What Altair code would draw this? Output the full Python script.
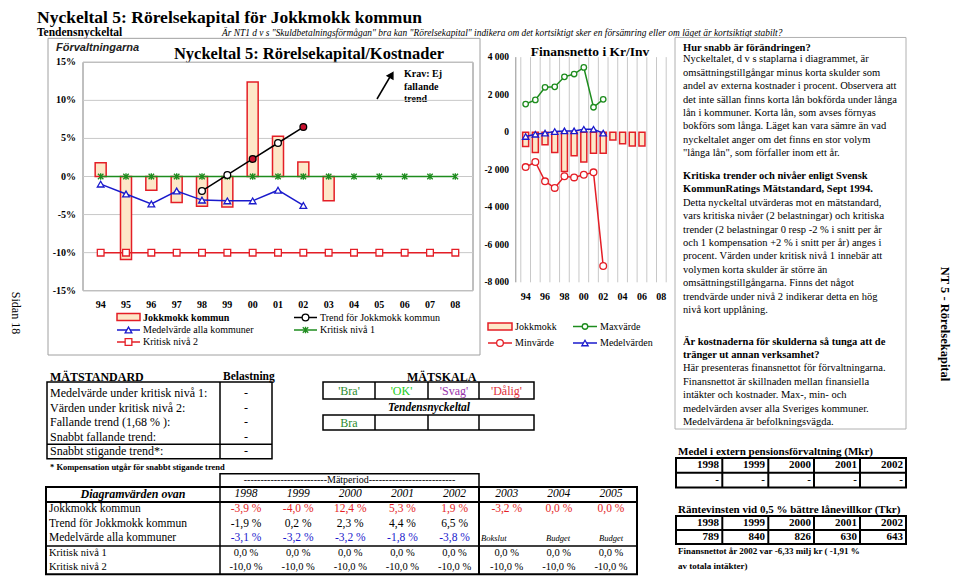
import altair as alt
import pandas as pd

SERIF = "Liberation Serif"
SANS = "Liberation Sans"

# ---------------- data: Nyckeltal 5 (% of costs) ----------------
years = ["94", "95", "96", "97", "98", "99", "00", "01", "02", "03", "04", "05", "06", "07", "08"]
jokkmokk = [1.8, -10.9, -1.8, -3.4, -3.9, -4.0, 12.4, 5.3, 1.9, -3.2]          # 94-03
medel = [-1.0, -2.3, -3.6, -1.9, -3.1, -3.2, -3.2, -1.8, -3.8]                 # 94-02
trend_years = ["98", "99", "00", "01", "02"]
trend = [-1.9, 0.2, 2.3, 4.4, 6.5]
trend_marked = ["00", "02"]
kritisk1 = [0.0, 0.0, 0.0, 0.0, 0.0, 0.0, 0.0, 0.0, 0.0, 0.0, 0.0, 0.0, 0.0, 0.0, 0.0]
kritisk2 = [-10.0, -10.0, -10.0, -10.0, -10.0, -10.0, -10.0, -10.0, -10.0, -10.0, -10.0, -10.0, -10.0, -10.0, -10.0]
pct_ticks = [-15, -10, -5, 0, 5, 10, 15]

# ---------------- data: Finansnetto (kr/inv) ----------------
fin_jokkmokk = [-760, -1080, -670, -1080, -2090, -1260, -1590, -1120, -1120, -410, -620, -730, -730]  # 94-06
fin_max = [1500, 1720, 2390, 2420, 2950, 3100, 3450, 1330, 1750]          # 94-02
fin_min = [-1860, -1590, -2620, -2970, -2350, -2410, -2270, -2140, -7130]
fin_medel = [-230, -110, -50, 35, 70, 70, 160, 160, -50]
fin_ticks = [-8000, -6000, -4000, -2000, 0, 2000, 4000]
fin_label_years = ["94", "96", "98", "00", "02", "04", "06", "08"]

# ---------------- data: tables ----------------
table_years = [1998, 1999, 2000, 2001, 2002, 2003, 2004, 2005]
tab_jokkmokk = [-3.9, -4.0, 12.4, 5.3, 1.9, -3.2, 0.0, 0.0]
tab_trend = [-1.9, 0.2, 2.3, 4.4, 6.5]
tab_medel = [-3.1, -3.2, -3.2, -1.8, -3.8]
tab_kritisk1 = [0.0, 0.0, 0.0, 0.0, 0.0, 0.0, 0.0, 0.0]
tab_kritisk2 = [-10.0, -10.0, -10.0, -10.0, -10.0, -10.0, -10.0, -10.0]
tab_notes = ["Bokslut", "Budget", "Budget"]
matstandard_rows = ["Medelvärde under kritisk nivå 1:", "Värden under kritisk nivå 2:",
                    "Fallande trend (1,68 % ):", "Snabbt fallande trend:", "Snabbt stigande trend*:"]
belastning = ["-", "-", "-", "-", "-"]
matskala = ["'Bra'", "'OK'", "'Svag'", "'Dålig'"]
tendens_betyg = ["Bra", "", "", ""]
pension_years = [1998, 1999, 2000, 2001, 2002]
pension = ["-", "-", "-", "-", "-"]
rantevinst = [789, 840, 826, 630, 643]

# ---------------- styles ----------------
RED = "#e41e26"
DARKRED = "#c8102e"
BLUE = "#1a1acc"
GREEN = "#1e8c1e"
BARFILL = "#fde7c8"
GRID = "#c8c8c8"
FRAME = "#a0a0a0"
STAR = "M-1,-1L1,1M-1,1L1,-1M0,-1.2L0,1.2"


def X(px):
    return px - 8


def Y(py):
    # page y -> canvas y (top and bottom bands slightly compressed to fit the page margins)
    if py < 60:
        py = 8 + py * (52 / 60)
    elif py > 440:
        py = 440 + (py - 440) * 0.938
    return py - 8


ONE = alt.Data(values=[{"k": 0}])


def sv(v):
    return f"{v:.1f}".replace(".", ",") + " %"


def text(t, x, y, size=10, weight="normal", style="normal", align="left", color="black",
         font=SERIF, angle=0, baseline="middle"):
    kw = dict(align=align, baseline=baseline, font=font, fontSize=size,
              fontWeight=weight, fontStyle=style, color=color)
    if angle:
        kw["angle"] = angle
    return alt.Chart(ONE).mark_text(**kw).encode(
        x=alt.value(X(x)), y=alt.value(Y(y)), text=alt.value(t))


def lines(ts, x, y0, lh, size=10.5, weight="normal", style="normal", align="left", color="black"):
    df = pd.DataFrame({"t": ts, "y": [Y(y0 + i * lh) for i in range(len(ts))]})
    return alt.Chart(df).mark_text(align=align, baseline="middle", font=SERIF, fontSize=size,
                                   fontWeight=weight, fontStyle=style, color=color).encode(
        x=alt.value(X(x)), y=alt.Y("y:Q", scale=None), text="t:N")


def hline(x1, x2, y, color="black", w=1.0):
    return alt.Chart(ONE).mark_rule(color=color, strokeWidth=w).encode(
        x=alt.value(X(x1)), x2=alt.value(X(x2)), y=alt.value(Y(y)))


def vline(x, y1, y2, color="black", w=1.0):
    return alt.Chart(ONE).mark_rule(color=color, strokeWidth=w).encode(
        x=alt.value(X(x)), y=alt.value(Y(y1)), y2=alt.value(Y(y2)))


def box(x1, y1, x2, y2, stroke="black", w=1.0, fill="transparent"):
    return alt.Chart(ONE).mark_rect(fill=fill, stroke=stroke, strokeWidth=w).encode(
        x=alt.value(X(x1)), x2=alt.value(X(x2)), y=alt.value(Y(y1)), y2=alt.value(Y(y2)))


def marker(x, y, shape, color, size, fill="white", filled=True, angle=0):
    kw = dict(shape=shape, size=size, stroke=color, strokeWidth=1.3, opacity=1)
    if filled:
        kw.update(filled=True, fill=fill)
    else:
        kw.update(filled=False)
    if angle:
        kw["angle"] = angle
    return alt.Chart(ONE).mark_point(**kw).encode(x=alt.value(X(x)), y=alt.value(Y(y)))


def series(vals, labels, sx, sy, color, shape, size, filled=True, fill="white", sw=1.5, cond=None):
    df = pd.DataFrame({"i": [years.index(l) for l in labels], "year": labels, "v": vals})
    base = alt.Chart(df).encode(x=alt.X("i:Q", scale=sx, axis=None),
                                y=alt.Y("v:Q", scale=sy, axis=None))
    ln = base.mark_line(color=color, strokeWidth=sw)
    kw = dict(shape=shape, size=size, stroke=color, strokeWidth=1.3, opacity=1)
    if filled:
        kw.update(filled=True, fillOpacity=1)
        if cond is None:
            kw["fill"] = fill
    else:
        kw["filled"] = False
    pts = base.mark_point(**kw)
    if cond is not None:
        pts = pts.encode(fill=alt.condition(
            alt.FieldOneOfPredicate(field="year", oneOf=cond), alt.value(DARKRED), alt.value("white")))
    return alt.layer(ln, pts)


# ================= main chart =================
mx = alt.Scale(domain=[-0.5, 14.5], range=[X(83), X(473)])
my = alt.Scale(domain=[-15, 15], range=[Y(290.7), Y(62.3)])

grid_main = alt.Chart(pd.DataFrame({"t": pct_ticks})).mark_rule(color=GRID, strokeWidth=1).encode(
    y=alt.Y("t:Q", scale=my, axis=None), x=alt.value(X(83)), x2=alt.value(X(473)))
ylab_main = alt.Chart(pd.DataFrame({"t": pct_ticks, "lab": [f"{t}%" for t in pct_ticks]})).mark_text(
    align="right", baseline="middle", font=SERIF, fontSize=10, fontWeight="bold").encode(
    y=alt.Y("t:Q", scale=my, axis=None), x=alt.value(X(76)), text="lab:N")
xlab_main = alt.Chart(pd.DataFrame({"i": list(range(len(years))), "lab": years})).mark_text(
    baseline="middle", font=SERIF, fontSize=10, fontWeight="bold").encode(
    x=alt.X("i:Q", scale=mx, axis=None), y=alt.value(Y(305)), text="lab:N")
bars_main = alt.Chart(pd.DataFrame({"i": list(range(len(jokkmokk))), "v": jokkmokk})).mark_bar(
    size=11, fill=BARFILL, stroke=RED, strokeWidth=1.5).encode(
    x=alt.X("i:Q", scale=mx, axis=None), y=alt.Y("v:Q", scale=my, axis=None), y2=alt.datum(0))

main_group = alt.layer(
    grid_main,
    bars_main,
    series(kritisk2, years, mx, my, RED, "square", 45),
    series(kritisk1, years, mx, my, GREEN, STAR, 30, filled=False),
    series(medel, years[:len(medel)], mx, my, BLUE, "triangle-up", 45),
    series(trend, trend_years, mx, my, "black", "circle", 45, cond=trend_marked),
    ylab_main,
    xlab_main,
)

# ================= finansnetto chart =================
fx = alt.Scale(domain=[-0.5, 14.5], range=[X(515.8), X(671.2)])
fy = alt.Scale(domain=[-8000, 4000], range=[Y(282.3), Y(56.7)])

fgrid = alt.Chart(pd.DataFrame({"b": [i - 0.5 for i in range(len(years) + 1)]})).mark_rule(
    color=GRID, strokeWidth=1).encode(
    x=alt.X("b:Q", scale=fx, axis=None), y=alt.value(Y(56.7)), y2=alt.value(Y(282.3)))
fylab = alt.Chart(pd.DataFrame({"t": fin_ticks, "lab": [f"{t:,}".replace(",", " ") for t in fin_ticks]})).mark_text(
    align="right", baseline="middle", font=SERIF, fontSize=9.5, fontWeight="bold").encode(
    y=alt.Y("t:Q", scale=fy, axis=None), x=alt.value(X(509)), text="lab:N")
fxlab = alt.Chart(pd.DataFrame({"i": [years.index(y) for y in fin_label_years], "lab": fin_label_years})).mark_text(
    baseline="middle", font=SERIF, fontSize=10, fontWeight="bold").encode(
    x=alt.X("i:Q", scale=fx, axis=None), y=alt.value(Y(297)), text="lab:N")
fbars = alt.Chart(pd.DataFrame({"i": list(range(len(fin_jokkmokk))), "v": fin_jokkmokk})).mark_bar(
    size=6, fill=BARFILL, stroke=RED, strokeWidth=1.5).encode(
    x=alt.X("i:Q", scale=fx, axis=None), y=alt.Y("v:Q", scale=fy, axis=None), y2=alt.datum(0))

fin_group = alt.layer(
    fgrid,
    fbars,
    series(fin_max, years[:len(fin_max)], fx, fy, GREEN, "circle", 30),
    series(fin_min, years[:len(fin_min)], fx, fy, RED, "circle", 45),
    series(fin_medel, years[:len(fin_medel)], fx, fy, BLUE, "triangle-up", 40),
    fylab,
    fxlab,
)

# ================= bottom table (values via year scale) =================
tx = alt.Scale(domain=[1998, 2005], range=[X(246), X(611)])


def trow(vals, y, color="black", size=11.5, style="normal", fmt=sv):
    df = pd.DataFrame({"yr": table_years[:len(vals)], "lab": [fmt(v) for v in vals]})
    return alt.Chart(df).mark_text(baseline="middle", font=SERIF, fontSize=size, fontStyle=style,
                                   color=color).encode(
        x=alt.X("yr:Q", scale=tx, axis=None), y=alt.value(Y(y)), text="lab:N")


table_group = alt.layer(
    trow(table_years, 498, style="italic", fmt=str),
    trow(tab_jokkmokk, 513.5, color=RED),
    trow(tab_trend, 530),
    trow(tab_medel, 544.5, color=BLUE),
    trow(tab_kritisk1, 561, size=10.5),
    trow(tab_kritisk2, 575, size=10.5),
)

# right-column tables
px_ = alt.Scale(domain=[1998, 2002], range=[X(719), X(903)])


def prow(vals, y, fmt=str):
    df = pd.DataFrame({"yr": pension_years[:len(vals)], "lab": [fmt(v) for v in vals]})
    return alt.Chart(df).mark_text(align="right", baseline="middle", font=SERIF, fontSize=11,
                                   fontWeight="bold").encode(
        x=alt.X("yr:Q", scale=px_, axis=None), y=alt.value(Y(y)), text="lab:N")


ptable_group = alt.layer(
    prow(pension_years, 467), prow(pension, 483),
    prow(pension_years, 528.5), prow(rantevinst, 543.5),
)

# MÄTSTANDARD rows
rs = alt.Scale(domain=[0, 4], range=[Y(393), Y(452)])
ms_df = pd.DataFrame({"r": list(range(len(matstandard_rows))), "lab": matstandard_rows, "bel": belastning})
ms_group = alt.layer(
    alt.Chart(ms_df).mark_text(align="left", baseline="middle", font=SERIF, fontSize=12).encode(
        y=alt.Y("r:Q", scale=rs, axis=None), x=alt.value(X(50)), text="lab:N"),
    alt.Chart(ms_df).mark_text(align="center", baseline="middle", font=SERIF, fontSize=12).encode(
        y=alt.Y("r:Q", scale=rs, axis=None), x=alt.value(X(246)), text="bel:N"),
)

# MÄTSKALA
ks = alt.Scale(domain=[0, 3], range=[X(349), X(506.5)])
skala_colors = ["#2e8b2e", "#22cc22", "#9933aa", "#e0303a"]
sk_df = pd.DataFrame({"c": list(range(4)), "lab": matskala, "bet": tendens_betyg, "col": skala_colors})
sk_group = alt.layer(
    alt.Chart(sk_df).mark_text(baseline="middle", font=SERIF, fontSize=12).encode(
        x=alt.X("c:Q", scale=ks, axis=None), y=alt.value(Y(390.5)), text="lab:N",
        color=alt.Color("col:N", scale=None)),
    alt.Chart(sk_df).mark_text(baseline="middle", font=SERIF, fontSize=12).encode(
        x=alt.X("c:Q", scale=ks, axis=None), y=alt.value(Y(422.5)), text="bet:N",
        color=alt.Color("col:N", scale=None)),
)

# ================= static text & frames =================
para1 = ["Nyckeltalet, d v s staplarna i diagrammet, är",
         "omsättningstillgångar minus korta skulder som",
         "andel av externa kostnader i procent. Observera att",
         "det inte sällan finns korta lån bokförda under långa",
         "lån i kommuner. Korta lån, som avses förnyas",
         "bokförs som långa. Läget kan vara sämre än vad",
         "nyckeltalet anger om det finns en stor volym",
         "\"långa lån\", som förfaller inom ett år."]
para2h = ["Kritiska trender och nivåer enligt Svensk", "KommunRatings Mätstandard, Sept 1994."]
para2 = ["Detta nyckeltal utvärderas mot en mätstandard,",
         "vars kritiska nivåer (2 belastningar) och kritiska",
         "trender (2 belastningar 0 resp -2 % i snitt per år",
         "och 1 kompensation +2 % i snitt per år) anges i",
         "procent. Värden under kritisk nivå 1 innebär att",
         "volymen korta skulder är större än",
         "omsättningstillgångarna.  Finns det något",
         "trendvärde under nivå 2 indikerar detta en hög",
         "nivå kort upplåning."]
para3h = ["Är kostnaderna för skulderna så tunga att de", "tränger ut annan verksamhet?"]
para3 = ["Här presenteras finansnettot för förvaltningarna.",
         "Finansnettot är skillnaden mellan finansiella",
         "intäkter och kostnader. Max-, min- och",
         "medelvärden avser alla Sveriges kommuner.",
         "Medelvärdena är befolkningsvägda."]
LH = 13.4

static = [
    # page header
    text("Nyckeltal 5: Rörelsekapital för Jokkmokk kommun", 37, 11.3, size=17.5, weight="bold"),
    text("Tendensnyckeltal", 37, 28.85, size=11.5, weight="bold"),
    text("Är NT1 d v s \"Skuldbetalningsförmågan\" bra kan \"Rörelsekapital\" indikera om det kortsiktigt sker en försämring eller om läget är kortsiktigt stabilt?",
         222, 28.85, size=9.4, style="italic"),
    text("Sidan 18", 16, 313, size=12, angle=90, align="center"),
    text("NT 5 - Rörelsekapital", 945, 324, size=12.5, weight="bold", angle=90, align="center"),
    # main chart frame
    box(48, 35, 480, 355, stroke=FRAME, w=1),
    box(83, 62.3, 473, 290.7, stroke="#808080", w=1),
    text("Förvaltningarna", 56, 46, size=11, weight="bold", style="italic", font=SANS, color="#222222"),
    text("Nyckeltal 5: Rörelsekapital/Kostnader", 309, 52.7, size=16.5, weight="bold", align="center"),
    # Krav arrow
    alt.Chart(ONE).mark_rule(color="black", strokeWidth=1.5).encode(
        x=alt.value(X(377)), y=alt.value(Y(99)), x2=alt.value(X(390.5)), y2=alt.value(Y(76))),
    marker(391.5, 75, "triangle-up", "black", 45, fill="black", angle=30),
    text("Krav: Ej", 404, 74, size=10, weight="bold"),
    text("fallande", 404, 86.5, size=10, weight="bold"),
    text("trend", 404, 99, size=10, weight="bold"),
    # main legend
    box(117, 313.5, 140, 320.5, stroke=RED, w=1.5, fill=BARFILL),
    text("Jokkmokk kommun", 143, 317.5, size=10, weight="bold"),
    hline(294, 317, 317.5, color="black", w=1.5),
    marker(305.5, 317.5, "circle", "black", 45),
    text("Trend för Jokkmokk kommun", 320, 317.5, size=10),
    hline(117, 140, 330, color=BLUE, w=1.5),
    marker(128.5, 330, "triangle-up", BLUE, 45),
    text("Medelvärde alla kommuner", 143, 330, size=10),
    hline(294, 317, 330, color=GREEN, w=1.5),
    marker(305.5, 330, STAR, GREEN, 30, filled=False),
    text("Kritisk nivå 1", 320, 330, size=10),
    hline(117, 140, 342, color=RED, w=1.5),
    marker(128.5, 342, "square", RED, 45),
    text("Kritisk nivå 2", 143, 342, size=10),
    # finansnetto
    vline(515.8, 56.7, 282.3, color="#909090"),
    text("Finansnetto i Kr/Inv", 590, 51, size=13.5, weight="bold", align="center"),
    box(488, 323, 512, 330, stroke=RED, w=1.5, fill=BARFILL),
    text("Jokkmokk", 515, 326.5, size=10),
    hline(573, 597, 326.5, color=GREEN, w=1.5),
    marker(585, 326.5, "circle", GREEN, 30),
    text("Maxvärde", 600, 326.5, size=10),
    hline(488, 512, 343, color=RED, w=1.5),
    marker(500, 343, "circle", RED, 45),
    text("Minvärde", 515, 343, size=10),
    hline(573, 597, 343, color=BLUE, w=1.5),
    marker(585, 343, "triangle-up", BLUE, 40),
    text("Medelvärden", 600, 343, size=10),
    # right text box
    box(675, 34, 906, 429, stroke="#b0b0b0", w=1),
    text("Hur snabb är förändringen?", 683, 46, size=10.5, weight="bold"),
    lines(para1, 683, 46 + LH, LH),
    lines(para2h, 683, 176, LH, weight="bold"),
    lines(para2, 683, 176 + 2 * LH, LH),
    lines(para3h, 683, 341.5, LH, weight="bold"),
    lines(para3, 683, 341.5 + 2 * LH, LH),
    # right tables
    text("Medel i extern pensionsförvaltning (Mkr)", 678, 452.7, size=11, weight="bold"),
    box(676, 459.3, 906, 490.7, w=2),
    hline(676, 906, 475, w=2),
    text("Räntevinsten vid 0,5 % bättre lånevillkor (Tkr)", 678, 514.3, size=11, weight="bold"),
    box(676, 521, 906, 551, w=2),
    hline(676, 906, 536, w=2),
    text("Finansnettot år 2002 var -6,33 milj kr ( -1,91 %", 678, 558.3, size=9, weight="bold"),
    text("av totala intäkter)", 678, 574.3, size=9, weight="bold"),
    # MÄTSTANDARD
    text("MÄTSTANDARD", 50, 377, size=12, weight="bold"),
    text("Belastning", 223, 377, size=11.5, weight="bold"),
    box(47, 382, 272, 460, w=1.5),
    vline(220, 382, 460, w=1.5),
    hline(47, 272, 444.5, w=1.5),
    text("* Kompensation utgår för snabbt stigande trend", 50, 469, size=8.5, weight="bold"),
    # MÄTSKALA
    text("MÄTSKALA", 441.7, 377, size=12, weight="bold", align="center"),
    box(323, 382, 534, 399, w=1.5),
    box(323, 415, 534, 430, w=1.5),
    text("Tendensnyckeltal", 429, 407.5, size=11.5, weight="bold", style="italic", align="center"),
    # bottom table frame
    box(220, 476, 479, 490, w=1.5),
    text("-------------------------Mätperiod--------------------------", 349.5, 483, size=10, align="center"),
    box(46, 490, 637, 583, w=2),
    hline(46, 637, 506, w=2),
    hline(46, 637, 553, w=1.5),
    vline(220, 490, 583, w=1.5),
    vline(479, 490, 583, w=2),
    text("Diagramvärden ovan", 133, 498, size=12, weight="bold", style="italic", align="center"),
    text("Jokkmokk kommun", 49, 513.5, size=11.5),
    text("Trend för Jokkmokk kommun", 49, 530, size=11.5),
    text("Medelvärde alla kommuner", 49, 544.5, size=11.5),
    text("Kritisk nivå 1", 49, 561, size=10.5),
    text("Kritisk nivå 2", 49, 575, size=10.5),
]
for lab, xx, al in zip(tab_notes, [481, 558, 611], ["left", "center", "center"]):
    static.append(text(lab, xx, 545, size=8.5, style="italic", align=al))
for xv in [722.3, 768.3, 814, 860]:
    static.append(vline(xv, 459.3, 490.7, w=2))
    static.append(vline(xv, 521, 551, w=2))
for xv in [375, 428, 479]:
    static.append(vline(xv, 382, 399, w=1.5))
    static.append(vline(xv, 415, 430, w=1.5))

chart = alt.layer(
    *static, main_group, fin_group, table_group, ptable_group, ms_group, sk_group
).resolve_scale(x="independent", y="independent").properties(
    width=944, height=570, padding=0, autosize="none"
).configure_view(strokeWidth=0)

chart.save("out.html", embed_options={"renderer": "svg", "actions": False})
